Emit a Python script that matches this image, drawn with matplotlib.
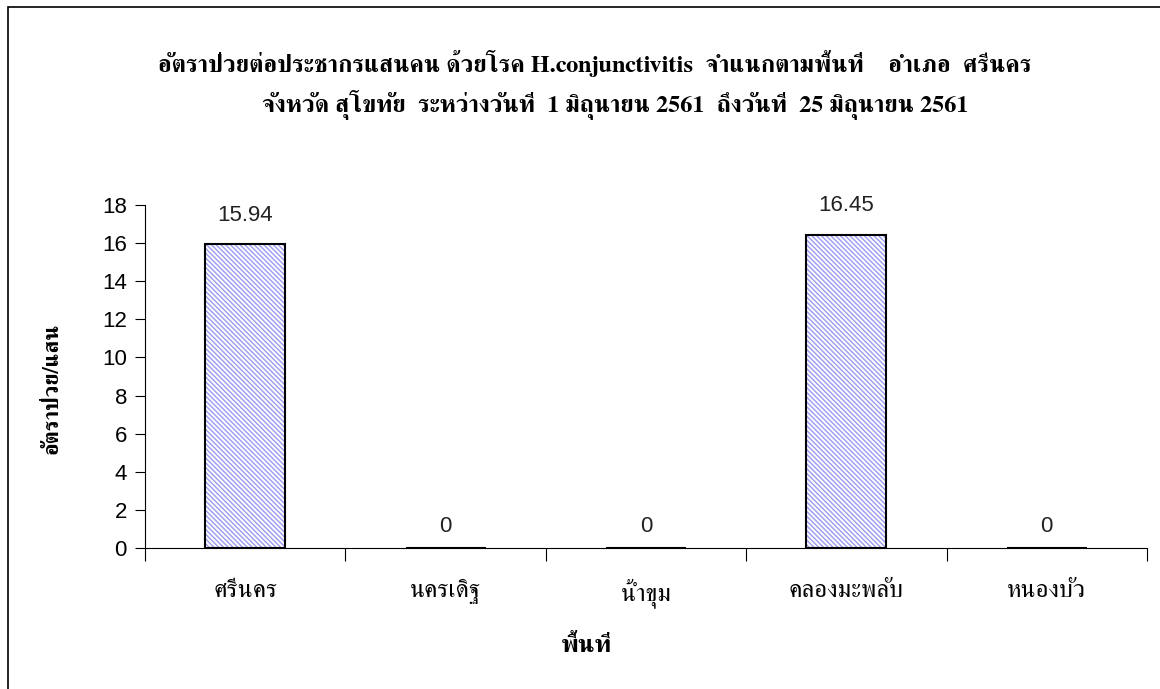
import matplotlib.pyplot as plt
from matplotlib.patches import Rectangle
from matplotlib import font_manager
from matplotlib.ft2font import FT2Font
import numpy as np

# pick an installed family that can draw Thai (serif first)
thai_fams = []
for f in font_manager.fontManager.ttflist:
    try:
        if 0x0E01 in FT2Font(f.fname).get_charmap():
            thai_fams.append(f.name)
    except Exception:
        pass
thai_fams = sorted(set(thai_fams), key=lambda n: ('Serif' not in n, n))

plt.rcParams['font.family'] = thai_fams + ['Liberation Sans', 'DejaVu Sans']

areas = ['ศรีนคร', 'นครเดิฐ', 'น้ำขุม', 'คลองมะพลับ', 'หนองบัว']
rates = [15.94, 0, 0, 16.45, 0]
yticks = np.arange(0, 19, 2)

title1 = 'อัตราป่วยต่อประชากรแสนคน ด้วยโรค H.conjunctivitis  จำแนกตามพื้นที่    อำเภอ  ศรีนคร'
title2 = 'จังหวัด สุโขทัย  ระหว่างวันที่  1 มิถุนายน 2561  ถึงวันที่  25 มิถุนายน 2561'
num_font = ['Liberation Sans', 'DejaVu Sans']

fig = plt.figure(figsize=(11.6, 6.89), dpi=100)
ax = fig.add_axes([0.125, 0.2046, 0.8638, 0.4979])

x = np.arange(len(areas))
# hatch layer (hatch takes the edge colour), then black outline on top
ax.bar(x, rates, width=0.4, color='white', edgecolor='#9a9af2',
       linewidth=0, hatch='\\\\\\\\\\\\\\')
ax.bar(x, rates, width=0.4, fill=False, edgecolor='black', linewidth=1.5)
for xi, v in zip(x, rates):
    ax.text(xi, v + (0.95 if v > 0 else 0.6), f'{v:g}', ha='center', va='bottom',
            fontsize=16, family=num_font, color='#222222')

ax.set_xlim(-0.5, len(areas) - 0.5)
ax.set_ylim(0, 18)
ax.set_yticks(yticks)
ax.set_yticklabels([str(t) for t in yticks], family=num_font)
ax.tick_params(axis='y', labelsize=16, length=7, direction='out', pad=6)
ax.set_xticks(np.arange(len(areas) + 1) - 0.5, minor=False)
ax.set_xticklabels([])
ax.set_xticks(x, minor=True)
ax.set_xticklabels(areas, minor=True, fontsize=18)
ax.tick_params(axis='x', which='major', length=9)
ax.tick_params(axis='x', which='minor', length=0, pad=22)
for s in ['top', 'right']:
    ax.spines[s].set_visible(False)

fig.text(0.506, 0.062, 'พื้นที่', ha='center', va='center', fontsize=18, fontweight='bold')
fig.text(0.045, 0.437, 'อัตราป่วย/แสน', ha='center', va='center', rotation=90,
         fontsize=16, fontweight='bold')

fig.text(0.513, 0.908, title1, ha='center', va='center', fontsize=17.5, fontweight='bold')
fig.text(0.530, 0.847, title2, ha='center', va='center', fontsize=17.5, fontweight='bold')

fig.patches.append(Rectangle((8 / 1160, -0.1), 1.2, 1 - 7 / 689 + 0.1,
                             transform=fig.transFigure, fill=False,
                             edgecolor='black', linewidth=1.2))

fig.savefig('out.png', dpi=100)
